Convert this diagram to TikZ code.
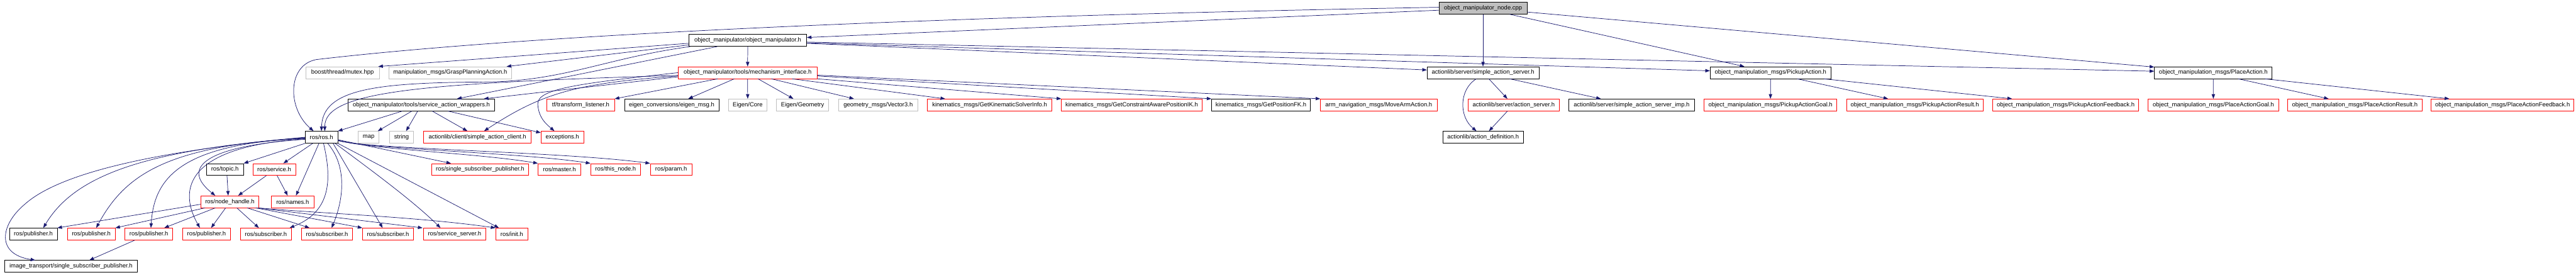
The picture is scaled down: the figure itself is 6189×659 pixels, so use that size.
\documentclass[tikz,border=0pt]{standalone}
\usepackage{fontspec}
\setmainfont{Liberation Sans}
\usetikzlibrary{arrows.meta}
\definecolor{edgec}{HTML}{191970}
\definecolor{redc}{HTML}{FF0000}
\definecolor{grayc}{HTML}{BFBFBF}
\begin{document}
\begin{tikzpicture}[x=1pt,y=-1pt,
  box/.style={rectangle, inner sep=0pt, minimum height=28.5pt, line width=1.1pt,
    font=\fontsize{14.3pt}{17pt}\selectfont, fill=white},
  blk/.style={box, draw=black},
  rd/.style={box, draw=redc},
  gr/.style={box, draw=grayc},
  e/.style={draw=edgec, line width=1.1pt, -{Triangle[length=11pt,width=8pt]}}]
\path[fill=white] (0,0) rectangle (6189,659);
\useasboundingbox (0,0) rectangle (6189,659);
% row 0
\node[blk,fill=grayc,minimum width=212pt] (n0) at (3563,19.5) {object\_manipulator\_node.cpp};
% row 1
\node[blk,minimum width=283pt] (om) at (1796.5,97) {object\_manipulator/object\_manipulator.h};
% row 2
\node[gr,minimum width=176.6pt] (mutex) at (823,174.5) {boost/thread/mutex.hpp};
\node[gr,minimum width=294pt] (grasp) at (1081.6,174.5) {manipulation\_msgs/GraspPlanningAction.h};
\node[rd,minimum width=334.3pt] (mi) at (1796.2,174.5) {object\_manipulator/tools/mechanism\_interface.h};
\node[blk,minimum width=268.6pt] (sas) at (3563,174.5) {actionlib/server/simple\_action\_server.h};
\node[blk,minimum width=290.5pt] (pick) at (4253.9,174.5) {object\_manipulation\_msgs/PickupAction.h};
\node[blk,minimum width=282.7pt] (place) at (5317.5,174.5) {object\_manipulation\_msgs/PlaceAction.h};
% row 3
\node[blk,minimum width=351.6pt] (saw) at (1012.5,252) {object\_manipulator/tools/service\_action\_wrappers.h};
\node[rd,minimum width=162.1pt] (tf) at (1395.3,252) {tf/transform\_listener.h};
\node[blk,minimum width=226.8pt] (eig) at (1613.6,252) {eigen\_conversions/eigen\_msg.h};
\node[gr,minimum width=91pt] (ecore) at (1796.4,252) {Eigen/Core};
\node[gr,minimum width=125.8pt] (egeo) at (1928.2,252) {Eigen/Geometry};
\node[gr,minimum width=190.5pt] (vec3) at (2109.8,252) {geometry\_msgs/Vector3.h};
\node[rd,minimum width=298.5pt] (kinfo) at (2377.7,252) {kinematics\_msgs/GetKinematicSolverInfo.h};
\node[rd,minimum width=337.3pt] (kik) at (2718.9,252) {kinematics\_msgs/GetConstraintAwarePositionIK.h};
\node[blk,minimum width=237.2pt] (kfk) at (3029.5,252) {kinematics\_msgs/GetPositionFK.h};
\node[rd,minimum width=280pt] (movearm) at (3312.5,252) {arm\_navigation\_msgs/MoveArmAction.h};
\node[rd,minimum width=219.8pt] (as) at (3636.6,252) {actionlib/server/action\_server.h};
\node[blk,minimum width=301.4pt] (sasimp) at (3920.1,252) {actionlib/server/simple\_action\_server\_imp.h};
\node[rd,minimum width=318.8pt] (pg) at (4253.6,252) {object\_manipulation\_msgs/PickupActionGoal.h};
\node[rd,minimum width=327.8pt] (pr) at (4600.3,252) {object\_manipulation\_msgs/PickupActionResult.h};
\node[rd,minimum width=350.7pt] (pf) at (4963,252) {object\_manipulation\_msgs/PickupActionFeedback.h};
\node[rd,minimum width=312.9pt] (plg) at (5317.7,252) {object\_manipulation\_msgs/PlaceActionGoal.h};
\node[rd,minimum width=322.1pt] (plr) at (5657.6,252) {object\_manipulation\_msgs/PlaceActionResult.h};
\node[rd,minimum width=343pt] (plf) at (6012.5,252) {object\_manipulation\_msgs/PlaceActionFeedback.h};
% row 4
\node[blk,minimum width=78.1pt] (ros) at (772.3,329.5) {ros/ros.h};
\node[gr,minimum width=50.3pt] (map) at (885.7,329.5) {map};
\node[gr,minimum width=58.2pt] (string) at (964.7,329.5) {string};
\node[rd,minimum width=258.7pt] (sac) at (1147,329.5) {actionlib/client/simple\_action\_client.h};
\node[rd,minimum width=102.5pt] (exc) at (1351,329.5) {exceptions.h};
\node[blk,minimum width=194.5pt] (adef) at (3563.3,329.5) {actionlib/action\_definition.h};
% row 5
\node[blk,minimum width=89pt] (topic) at (540.4,407) {ros/topic.h};
\node[rd,minimum width=103pt] (service) at (658.8,407) {ros/service.h};
\node[rd,minimum width=231.8pt] (ssp) at (1153.5,407) {ros/single\_subscriber\_publisher.h};
\node[rd,minimum width=102.4pt] (master) at (1344,407) {ros/master.h};
\node[rd,minimum width=119.9pt] (thisnode) at (1479,407) {ros/this\_node.h};
\node[rd,minimum width=100pt] (param) at (1612.4,407) {ros/param.h};
% row 6
\node[rd,minimum width=139.3pt] (nh) at (552.2,484.5) {ros/node\_handle.h};
\node[rd,minimum width=103pt] (names) at (703.1,484.5) {ros/names.h};
% row 7
\node[blk,minimum width=114.4pt] (pub1) at (80.1,562) {ros/publisher.h};
\node[rd,minimum width=114.9pt] (pub2) at (219.2,562) {ros/publisher.h};
\node[rd,minimum width=114.4pt] (pub3) at (357.6,562) {ros/publisher.h};
\node[rd,minimum width=114.9pt] (pub4) at (496.2,562) {ros/publisher.h};
\node[rd,minimum width=122.8pt] (sub1) at (638.9,562) {ros/subscriber.h};
\node[rd,minimum width=122.9pt] (sub2) at (785.7,562) {ros/subscriber.h};
\node[rd,minimum width=122.3pt] (sub3) at (932.2,562) {ros/subscriber.h};
\node[rd,minimum width=149.2pt] (ssrv) at (1092.3,562) {ros/service\_server.h};
\node[rd,minimum width=77.6pt] (init) at (1229.6,562) {ros/init.h};
% row 8
\node[blk,minimum width=318.4pt] (itp) at (170.6,639.5) {image\_transport/single\_subscriber\_publisher.h};

% edges from the .cpp
\draw[e] ([yshift=-5pt]n0.west) -- ([yshift=7pt]om.east);
\draw[e] ([yshift=2pt]n0.west) .. controls (2300,38) and (1300,80) .. (760,143) .. controls (690,156) and (690,260) .. ([xshift=-19pt]ros.north);
\draw[e] (n0.south) -- (sas.north);
\draw[e] ([xshift=64pt]n0.south) -- ([xshift=-63pt]pick.north);
\draw[e] ([yshift=-9.5pt]n0.east) -- ([yshift=13.5pt]place.west);
% object_manipulator.h
\draw[e] ([yshift=-7pt]om.west) -- ([xshift=-3pt]mutex.north east);
\draw[e] ([yshift=-11pt]om.west) -- ([xshift=-12pt]grasp.north east);
\draw[e] ([xshift=4pt]om.south west) .. controls (1450,140) and (1350,198) .. (1150,197) .. controls (900,199) and (775,215) .. (ros.north);
\draw[e] ([xshift=69pt]om.south west) -- ([xshift=85.5pt]saw.north);
\draw[e] (om.south) -- (mi.north);
\draw[e] ([yshift=-7pt]om.east) -- ([yshift=6.5pt]sas.west);
\draw[e] ([yshift=-6pt]om.east) -- ([yshift=4.5pt]pick.west);
\draw[e] ([yshift=-4pt]om.east) -- ([yshift=3.5pt]place.west);
% mechanism_interface.h
\draw[e] ([yshift=-6.5pt]mi.west) .. controls (1000,200) and (780,220) .. ([xshift=8pt]ros.north);
\draw[e] ([yshift=-10pt]mi.west) -- ([xshift=150pt]saw.north);
\draw[e] ([xshift=-72pt]mi.south) -- (tf.north east);
\draw[e] ([yshift=-8pt]mi.west) .. controls (1380,200) and (1300,225) .. ([xshift=16pt]sac.north);
\draw[e] (mi.west) .. controls (1400,200) and (1290,212) .. (1292,250) .. controls (1294,285) and (1315,300) .. ([xshift=-19pt]exc.north);
\draw[e] ([xshift=-32pt]mi.south) -- ([xshift=40pt]eig.north);
\draw[e] (mi.south) -- (ecore.north);
\draw[e] ([xshift=25pt]mi.south) -- ([xshift=-22pt]egeo.north);
\draw[e] ([xshift=57pt]mi.south) -- ([xshift=-58pt]vec3.north);
\draw[e] ([xshift=107pt]mi.south) -- ([xshift=-107pt]kinfo.north);
\draw[e] (mi.south east) -- (kik.north west);
\draw[e] ([yshift=-8pt]mi.east) -- (kfk.north west);
\draw[e] ([yshift=-6pt]mi.east) -- (movearm.north west);
% simple_action_server.h
\draw[e] ([xshift=-16pt]sas.south) .. controls (3505,215) and (3505,280) .. ([xshift=-16pt]adef.north);
\draw[e] ([xshift=14pt]sas.south) -- ([xshift=-15pt]as.north);
\draw[e] ([xshift=64pt]sas.south) -- ([xshift=-74pt]sasimp.north);
\draw[e] ([xshift=-15pt]as.south) -- ([xshift=14pt]adef.north);
% Pickup / Place
\draw[e] (pick.south) -- (pg.north);
\draw[e] ([xshift=64pt]pick.south) -- ([xshift=-64pt]pr.north);
\draw[e] ([xshift=128pt]pick.south) -- ([xshift=-129pt]pf.north);
\draw[e] (place.south) -- (plg.north);
\draw[e] ([xshift=60pt]place.south) -- ([xshift=-63pt]plr.north);
\draw[e] ([xshift=124pt]place.south) -- ([xshift=-128pt]plf.north);
% service_action_wrappers.h
\draw[e] ([xshift=-46pt]saw.south) -- (ros.north east);
\draw[e] ([xshift=-23pt]saw.south) -- ([xshift=22pt]map.north);
\draw[e] ([xshift=-9pt]saw.south) -- ([xshift=11pt]string.north);
\draw[e] ([xshift=26pt]saw.south) -- ([xshift=-24pt]sac.north);
\draw[e] ([xshift=64pt]saw.south) -- ([yshift=-4pt]exc.north west);
% ros/ros.h
\draw[e] (ros.south west) -- (topic.north east);
\draw[e] ([xshift=-21pt]ros.south) -- ([xshift=22pt]service.north);
\draw[e] ([xshift=-6pt]ros.south) -- ([xshift=8pt]names.north);
\draw[e] ([yshift=-5pt]ros.west) .. controls (500,350) and (430,400) .. ([xshift=-35pt]nh.north);
\draw[e] ([yshift=-4pt]ros.west) .. controls (470,350) and (420,440) .. ([xshift=-16pt]pub4.north);
\draw[e] ([yshift=-3pt]ros.west) .. controls (430,345) and (370,430) .. ([xshift=5pt]pub3.north);
\draw[e] ([yshift=-2pt]ros.west) .. controls (400,350) and (300,420) .. ([xshift=12pt]pub2.north);
\draw[e] ([yshift=-1pt]ros.west) .. controls (350,360) and (180,420) .. ([xshift=24pt]pub1.north);
\draw[e] (ros.west) .. controls (400,360) and (150,410) .. (60,490) .. controls (0,540) and (-10,610) .. ([xshift=-86pt]itp.north);
\draw[e] ([xshift=5pt]ros.south) .. controls (800,440) and (790,510) .. ([xshift=57pt]sub1.north);
\draw[e] ([xshift=15pt]ros.south) .. controls (835,400) and (825,480) .. ([xshift=11pt]sub2.north);
\draw[e] ([xshift=28pt]ros.south) -- ([xshift=-13pt]sub3.north);
\draw[e] ([xshift=33pt]ros.south) .. controls (880,400) and (990,480) .. ([xshift=-34pt]ssrv.north);
\draw[e] (ros.south east) -- ([xshift=-31pt]init.north);
\draw[e] ([yshift=-6pt]ros.east) -- ([xshift=-70pt]ssp.north);
\draw[e] ([yshift=-7pt]ros.east) .. controls (880,358) and (1150,368) .. (master.north west);
\draw[e] ([yshift=-7.5pt]ros.east) .. controls (880,358) and (1250,366) .. (thisnode.north west);
\draw[e] ([yshift=-8pt]ros.east) .. controls (880,358) and (1350,364) .. (param.north west);
% topic / service
\draw[e] ([xshift=5pt]topic.south) -- ([xshift=-4pt]nh.north);
\draw[e] ([xshift=-19pt]service.south) -- ([xshift=20pt]nh.north);
\draw[e] ([xshift=7pt]service.south) -- ([xshift=-12pt]names.north);
% node_handle.h
\draw[e] ([yshift=-6pt]nh.west) -- (pub1.north east);
\draw[e] ([xshift=10pt]nh.south west) -- (pub2.north east);
\draw[e] ([xshift=35pt]nh.south west) -- ([xshift=37pt]pub3.north);
\draw[e] ([xshift=60pt]nh.south west) -- ([xshift=11pt]pub4.north);
\draw[e] ([xshift=17pt]nh.south) -- ([xshift=-17pt]sub1.north);
\draw[e] ([xshift=42pt]nh.south) -- ([xshift=-42pt]sub2.north);
\draw[e] ([xshift=-8pt]nh.south east) -- (sub3.north west);
\draw[e] ([xshift=-4pt]nh.south east) -- ([xshift=-2pt]ssrv.north west);
\draw[e] (nh.south east) .. controls (760,512) and (1000,520) .. (init.north west);
% publisher -> image_transport
\draw[e] ([xshift=-34pt]pub3.south) -- ([xshift=44pt]itp.north);
\end{tikzpicture}
\end{document}
